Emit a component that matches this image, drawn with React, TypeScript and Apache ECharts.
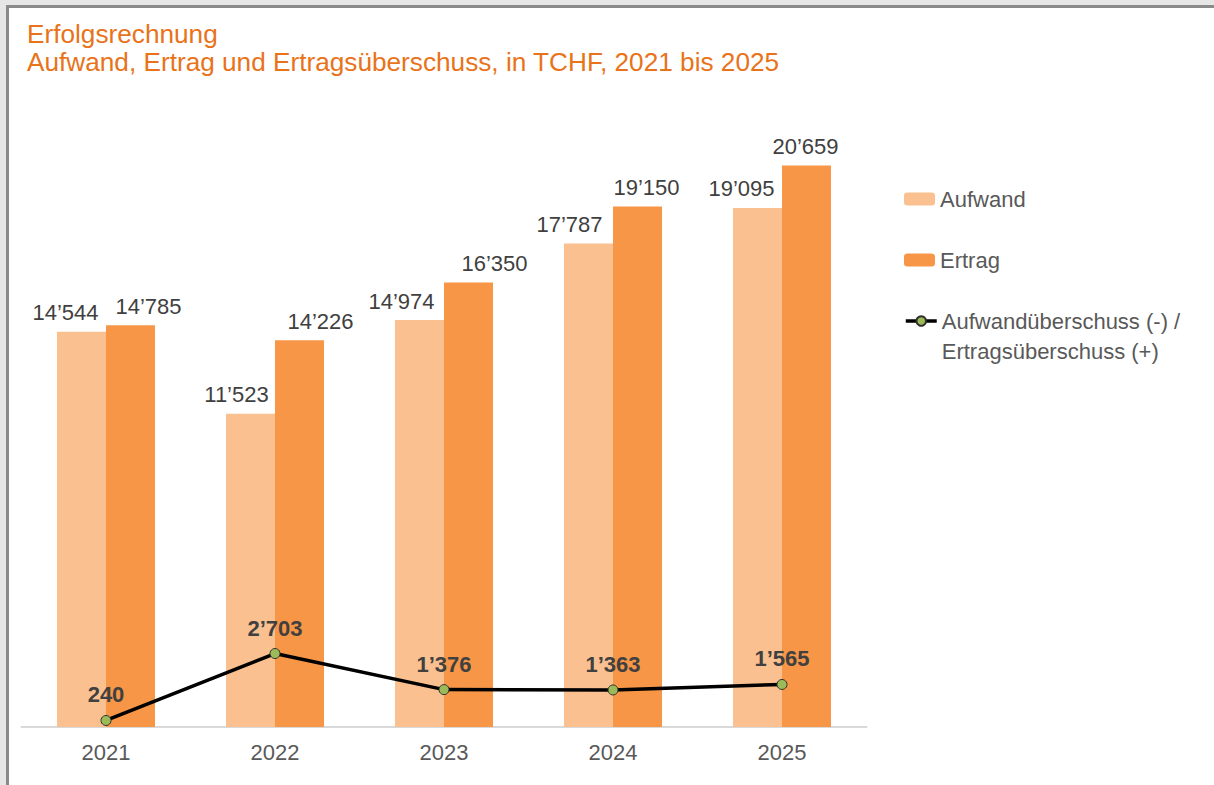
import React, { useEffect, useRef } from "react";
import * as echarts from "echarts";

const years = ["2021", "2022", "2023", "2024", "2025"];
const aufwand = [14544, 11523, 14974, 17787, 19095];
const ertrag = [14785, 14226, 16350, 19150, 20659];
const ueberschuss = [240, 2703, 1376, 1363, 1565];

// horizontal nudges of the bar labels (as in the original layout)
const aufwandLabelDx = [-16, -14, -18, -19, -16];
const ertragLabelDx = [18, 21, 26, 9, -1];

const FONT = "Liberation Sans, Arial, sans-serif";
const fmt = (v: number) => {
  const s = Math.round(v).toString();
  return s.replace(/\B(?=(\d{3})+(?!\d))/g, "\u2019");
};

const lineName = "Aufwandüberschuss (-) / Ertragsüberschuss (+)";

export default function App() {
  const ref = useRef<HTMLDivElement>(null);
  useEffect(() => {
    if (!ref.current) return;
    const chart = echarts.init(ref.current, undefined, { renderer: "svg" });
    const labelBase = {
      show: true,
      position: "top",
      distance: 8,
      fontFamily: FONT,
      fontSize: 22,
      color: "#404040",
      formatter: (p: any) => fmt(p.value),
    };
    const legendText = { fontFamily: FONT, fontSize: 22, color: "#595959", lineHeight: 30 };
    chart.setOption({
      animation: false,
      textStyle: { fontFamily: FONT },
      title: {
        text: "Erfolgsrechnung\nAufwand, Ertrag und Ertragsüberschuss, in TCHF, 2021 bis 2025",
        left: 27,
        top: 20,
        padding: 0,
        textStyle: {
          fontFamily: FONT,
          fontSize: 26.2,
          lineHeight: 28,
          fontWeight: "normal",
          color: "#e8731a",
        },
      },
      grid: { left: 21.5, right: 347.5, top: 47.5, bottom: 58 },
      xAxis: {
        type: "category",
        data: years,
        axisLine: { lineStyle: { color: "#d9d9d9", width: 2 } },
        axisTick: { show: false },
        axisLabel: { fontFamily: FONT, fontSize: 22, color: "#595959", margin: 14 },
      },
      yAxis: { type: "value", min: 0, max: 25000, show: false, splitLine: { show: false } },
      legend: [
        {
          data: ["Aufwand"],
          left: 904,
          top: 184,
          padding: 0,
          itemWidth: 31,
          itemHeight: 13,
          textStyle: legendText,
        },
        {
          data: ["Ertrag"],
          left: 904,
          top: 245,
          padding: 0,
          itemWidth: 31,
          itemHeight: 13,
          textStyle: legendText,
        },
        {
          data: [lineName],
          left: 904,
          top: 276,
          padding: 0,
          itemWidth: 31,
          itemHeight: 12,
          lineStyle: { width: 3.5, color: "#000000" },
          formatter: () => "\nAufwandüberschuss (-) /\nErtragsüberschuss (+)",
          textStyle: legendText,
        },
      ],
      series: [
        {
          name: "Aufwand",
          type: "bar",
          barWidth: 49,
          barGap: "0%",
          itemStyle: { color: "#fac090" },
          data: aufwand.map((v, i) => ({ value: v, label: { offset: [aufwandLabelDx[i], 0] } })),
          label: labelBase,
        },
        {
          name: "Ertrag",
          type: "bar",
          barWidth: 49,
          barGap: "0%",
          itemStyle: { color: "#f79646" },
          data: ertrag.map((v, i) => ({ value: v, label: { offset: [ertragLabelDx[i], 0] } })),
          label: labelBase,
        },
        {
          name: lineName,
          type: "line",
          data: ueberschuss,
          z: 5,
          symbol: "circle",
          symbolSize: 10,
          lineStyle: { color: "#000000", width: 3.5 },
          itemStyle: { color: "#9bbb59", borderColor: "#2f2f2f", borderWidth: 1 },
          label: {
            show: true,
            position: "top",
            distance: 9,
            fontFamily: FONT,
            fontSize: 22,
            fontWeight: "bold",
            color: "#404040",
            formatter: (p: any) => fmt(p.value),
          },
        },
      ],
    });
    return () => chart.dispose();
  }, []);

  return (
    <div style={{ position: "fixed", left: 0, top: 0, width: 1214, height: 785, background: "#e6e6e6", overflow: "hidden" }}>
      <div
        style={{
          position: "absolute",
          left: 6,
          top: 5,
          width: 1214,
          height: 785,
          background: "#ffffff",
          borderLeft: "3px solid #8a8a8a",
          borderTop: "3px solid #8a8a8a",
        }}
      />
      <div ref={ref} style={{ position: "absolute", left: 0, top: 0, width: 1214, height: 785 }} />
    </div>
  );
}
